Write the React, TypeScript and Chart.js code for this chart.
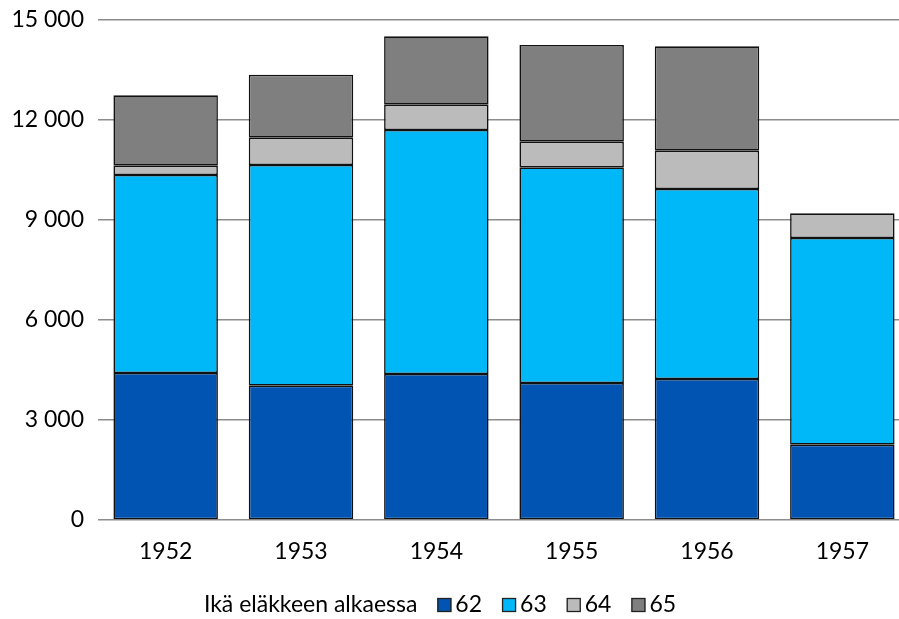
import React, { useEffect, useRef } from "react";
import { Chart, registerables } from "chart.js";

Chart.register(...registerables);

const years = ["1952", "1953", "1954", "1955", "1956", "1957"];
const age62 = [4410, 4030, 4380, 4110, 4230, 2260];
const age63 = [5940, 6620, 7320, 6470, 5700, 6200];
const age64 = [280, 820, 760, 770, 1150, 740];
const age65 = [2110, 1890, 2050, 2900, 3130, 0];
const seriesLabels = ["62", "63", "64", "65"];
const seriesColors = ["#0254B2", "#00B8F8", "#BBBBBB", "#7F7F7F"];
const legendTitle = "Ikä eläkkeen alkaessa";
const yTicks = [0, 3000, 6000, 9000, 12000, 15000];

const FONT = "Lato, 'Open Sans', sans-serif";
const FS = 23;

const fmt = (v: number) => {
  const s = String(Math.round(v));
  return s.replace(/\B(?=(\d{3})+(?!\d))/g, " ");
};

const legendPlugin = {
  id: "customLegend",
  afterDraw(chart: any) {
    const ctx = chart.ctx;
    ctx.save();
    ctx.font = `${FS}px ${FONT}`;
    ctx.textBaseline = "middle";
    ctx.fillStyle = "#000";
    const y = 605;
    const box = 14;
    const items = chart.data.datasets.map((d: any) => ({ label: d.label, color: d.backgroundColor }));
    const titleW = ctx.measureText(legendTitle).width;
    let total = titleW + 20;
    items.forEach((it: any, i: number) => {
      total += box + 4 + ctx.measureText(it.label).width + (i < items.length - 1 ? 20 : 0);
    });
    let x = 440 - total / 2;
    ctx.textAlign = "left";
    ctx.fillText(legendTitle, x, y);
    x += titleW + 20;
    items.forEach((it: any) => {
      ctx.fillStyle = it.color;
      ctx.fillRect(x, y - box / 2, box, box);
      ctx.strokeStyle = "#222";
      ctx.lineWidth = 1.3;
      ctx.strokeRect(x + 0.5, y - box / 2 + 0.5, box - 1, box - 1);
      x += box + 4;
      ctx.fillStyle = "#000";
      ctx.fillText(it.label, x, y);
      x += ctx.measureText(it.label).width + 20;
    });
    ctx.restore();
  },
};

export default function App() {
  const ref = useRef<HTMLCanvasElement | null>(null);
  useEffect(() => {
    if (!ref.current) return;
    const values = [age62, age63, age64, age65];
    const chart = new Chart(ref.current, {
      type: "bar",
      data: {
        labels: years,
        datasets: values.map((arr, i) => ({
          label: seriesLabels[i],
          data: arr,
          backgroundColor: seriesColors[i],
          borderColor: "#111111",
          borderWidth: 1.6,
          borderSkipped: false,
          categoryPercentage: 0.772,
          barPercentage: 1,
        })),
      },
      options: {
        animation: false,
        responsive: false,
        maintainAspectRatio: false,
        layout: { padding: { top: 20, right: 10, bottom: 49, left: 0 } },
        plugins: {
          legend: { display: false },
          tooltip: { enabled: false },
        },
        scales: {
          x: {
            stacked: true,
            grid: { display: false, drawTicks: false },
            border: { display: false },
            ticks: { color: "#000", font: { family: FONT, size: FS }, padding: 18 },
            afterFit: (s: any) => { s.height = 50; s.paddingLeft = 0; s.paddingRight = 0; },
          },
          y: {
            stacked: true,
            min: 0,
            max: 15000,
            afterBuildTicks: (s: any) => { s.ticks = yTicks.map((v) => ({ value: v })); },
            grid: { color: "#8c8c8c", lineWidth: 1.5, drawTicks: false },
            border: { display: false },
            ticks: {
              color: "#000",
              font: { family: FONT, size: FS },
              padding: 14,
              callback: (v: any) => fmt(Number(v)),
            },
            afterFit: (s: any) => { s.width = 98; s.paddingTop = 0; s.paddingBottom = 0; },
          },
        },
      },
      plugins: [legendPlugin],
    });
    return () => chart.destroy();
  }, []);
  return (
    <div style={{ position: "absolute", left: 0, top: 0, width: 899, height: 619, overflow: "hidden", background: "#fff" }}>
      <canvas ref={ref} width={920} height={619} style={{ display: "block", width: 920, height: 619 }} />
    </div>
  );
}
